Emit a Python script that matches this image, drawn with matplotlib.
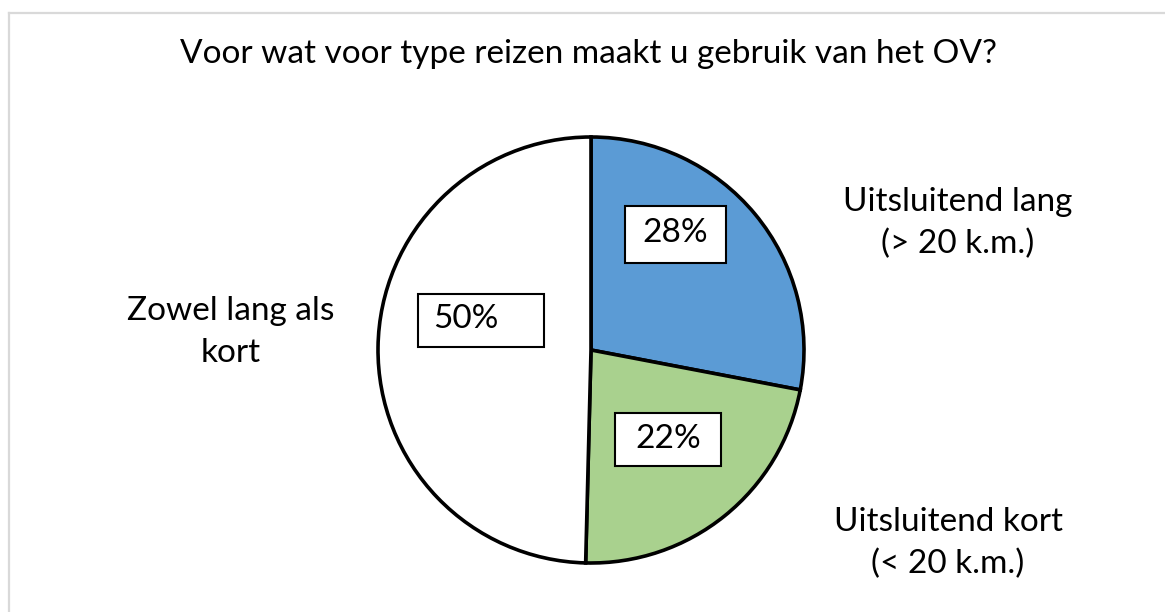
import matplotlib
matplotlib.use("Agg")
import matplotlib.pyplot as plt
import matplotlib.patches as mpatches
from matplotlib.lines import Line2D

# Data
categories = ["Uitsluitend lang\n(> 20 k.m.)", "Uitsluitend kort\n(< 20 k.m.)", "Zowel lang als\nkort"]
shares = [28.0, 22.4, 49.6]
pct_labels = ["28%", "22%", "50%"]
colors = ["#5B9BD5", "#A9D18E", "#FFFFFF"]
title = "Voor wat voor type reizen maakt u gebruik van het OV?"

W, H = 1165, 612
FONT = "Lato"
FS = 24

fig = plt.figure(figsize=(W / 100, H / 100), dpi=100)
fig.patch.set_facecolor("white")
ax = fig.add_axes([0, 0, 1, 1])

# pie in pixel-like data coordinates (y measured from bottom)
cx, cy, r = 591, H - 350, 213
ax.pie(shares, colors=colors, startangle=90, counterclock=False,
       center=(cx, cy), radius=r, frame=True,
       wedgeprops=dict(edgecolor="black", linewidth=2.6))
ax.set_xlim(0, W)
ax.set_ylim(0, H)
ax.set_aspect("equal")
ax.axis("off")

# chart-area border (only top and left visible)
fig.add_artist(Line2D([8.5 / W, 1], [1 - 12.5 / H, 1 - 12.5 / H], color="#D9D9D9", lw=1.6))
fig.add_artist(Line2D([8.5 / W, 8.5 / W], [0, 1 - 12.5 / H], color="#D9D9D9", lw=1.6))

ax.text(588, H - 54, title, fontsize=FS, family=FONT, ha="center", va="center")

# percentage boxes: (box x0, box y0 top, w, h, text x)
boxes = [(625, 206, 101, 57, 675),
         (615, 413, 106, 53, 668),
         (418, 294, 126, 53, 466)]
for (x0, y0, bw, bh, tx), lab in zip(boxes, pct_labels):
    ax.add_patch(mpatches.Rectangle((x0, H - y0 - bh), bw, bh, facecolor="white",
                                    edgecolor="black", linewidth=1.5, zorder=3))
    ax.text(tx, H - y0 - bh / 2 + 1, lab, fontsize=FS, family=FONT,
            ha="center", va="center", zorder=4)

# category labels
label_pos = [(958, 223), (948, 543), (231, 332)]
for (lx, ly), lab in zip(label_pos, categories):
    ax.text(lx, H - ly, lab, fontsize=FS, family=FONT, ha="center", va="center",
            linespacing=1.5)

fig.savefig("out.png", dpi=100, facecolor="white")
plt.close(fig)
